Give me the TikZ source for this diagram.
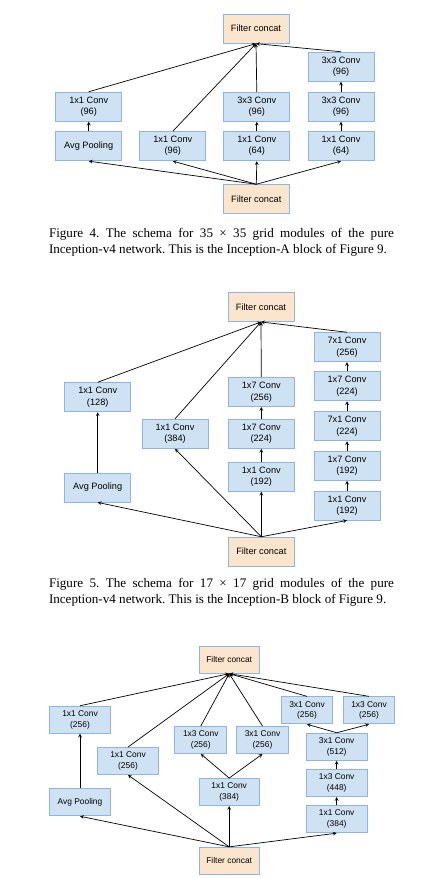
\documentclass[tikz,border=0pt]{standalone}
\usepackage{fontspec}
\setmainfont{Liberation Serif}
\newfontfamily\boxfont{Liberation Sans}
\usepackage{tikz}

\definecolor{convfill}{HTML}{CFE2F3}
\definecolor{convline}{RGB}{141,180,226}
\definecolor{catfill}{HTML}{FCE5CD}

\newcommand\capfmt{\frenchspacing\hyphenpenalty=10000\exhyphenpenalty=10000\relax}

\begin{document}
\begin{tikzpicture}[
  x=1pt, y=-1pt,
  box/.style={draw=convline, fill=convfill, line width=0.9pt, minimum width=66pt, minimum height=29pt, inner sep=0pt, align=center},
  concat/.style={box, fill=catfill},
  flow/.style={->, >=stealth, line width=0.7pt},
  caption/.style={text width=345pt, align=justify, inner sep=0pt, font=\fontsize{13.1}{15.8}\selectfont\capfmt},
  every node/.style={align=center}]

\useasboundingbox (0,0) rectangle (422,878);

% Inception-A
\begin{scope}[font=\boxfont\fontsize{9.2}{11}\selectfont]
  \node[concat] (catAtop) at (256,28.7) {Filter concat};
  \node[box] (convAfour) at (341,66.7) {3x3 Conv\\(96)};
  \node[box] (convAone) at (88.7,106.7) {1x1 Conv\\(96)};
  \node[box] (convAthree) at (256.8,106.7) {3x3 Conv\\(96)};
  \node[box] (convAfourb) at (341,106.7) {3x3 Conv\\(96)};
  \node[box] (poolA) at (88.7,146.2) {Avg Pooling};
  \node[box] (redAtwo) at (172.8,146.2) {1x1 Conv\\(96)};
  \node[box] (redAthree) at (256.8,146.2) {1x1 Conv\\(64)};
  \node[box] (redAfour) at (341,146.2) {1x1 Conv\\(64)};
  \node[concat] (catAbot) at (256.3,199.2) {Filter concat};
\end{scope}

\foreach \n in {poolA,redAtwo,redAthree,redAfour}
  \draw[flow] (catAbot.north) -- (\n.south);
\draw[flow] (poolA) -- (convAone);
\draw[flow] (redAthree) -- (convAthree);
\draw[flow] (redAfour) -- (convAfourb);
\draw[flow] (convAfourb) -- (convAfour);
\foreach \n in {convAone,redAtwo,convAthree,convAfour}
  \draw[flow] (\n.north) -- (catAtop.south);

\node[caption] (capA) at (221.5,242.5) {Figure 4. The schema for 35 × 35 grid modules of the pure Inception-v4 network. This is the Inception-A block of Figure 9.};

% Inception-B
\begin{scope}[font=\boxfont\fontsize{9.2}{11.5}\selectfont]
  \node[concat] (catBtop) at (261,307) {Filter concat};
  \node[box] (convBfoure) at (347,347.2) {7x1 Conv\\(256)};
  \node[box] (convBfourd) at (347,386.3) {1x7 Conv\\(224)};
  \node[box] (convBfourc) at (347,426.3) {7x1 Conv\\(224)};
  \node[box] (convBfourb) at (347,465.8) {1x7 Conv\\(192)};
  \node[box] (redBfour) at (347,505.5) {1x1 Conv\\(192)};
  \node[box] (convBthreec) at (261.3,392) {1x7 Conv\\(256)};
  \node[box] (convBthreeb) at (261.3,433.8) {1x7 Conv\\(224)};
  \node[box] (redBthree) at (261.3,476.7) {1x1 Conv\\(192)};
  \node[box] (redBtwo) at (175,433.8) {1x1 Conv\\(384)};
  \node[box] (convBone) at (97.7,397.2) {1x1 Conv\\(128)};
  \node[box] (poolB) at (97.7,487.5) {Avg Pooling};
  \node[concat] (catBbot) at (261.3,551.7) {Filter concat};
\end{scope}

\foreach \n in {poolB,redBtwo,redBthree,redBfour}
  \draw[flow] (catBbot.north) -- (\n.south);
\draw[flow] (poolB) -- (convBone);
\draw[flow] (redBthree) -- (convBthreeb);
\draw[flow] (convBthreeb) -- (convBthreec);
\draw[flow] (redBfour) -- (convBfourb);
\draw[flow] (convBfourb) -- (convBfourc);
\draw[flow] (convBfourc) -- (convBfourd);
\draw[flow] (convBfourd) -- (convBfoure);
\foreach \n in {convBone,redBtwo,convBthreec,convBfoure}
  \draw[flow] (\n.north) -- (catBtop.south);

\node[caption] (capB) at (221.5,592) {Figure 5. The schema for 17 × 17 grid modules of the pure Inception-v4 network. This is the Inception-B block of Figure 9.};

% Inception-C
\begin{scope}[font=\boxfont\fontsize{8.4}{10.7}\selectfont,
  box/.append style={minimum width=61pt, minimum height=27pt}]
  \node[concat, minimum width=60pt] (catCtop) at (229.2,659.7) {Filter concat};
  \node[box] (convCone) at (80,719.7) {1x1 Conv\\(256)};
  \node[box] (poolC) at (80,802.3) {Avg Pooling};
  \node[box] (redCtwo) at (128,761) {1x1 Conv\\(256)};
  \node[box, minimum width=52pt] (convCthreel) at (200.8,740) {1x3 Conv\\(256)};
  \node[box, minimum width=52pt] (convCthreer) at (262.5,740) {3x1 Conv\\(256)};
  \node[box, minimum width=60pt] (redCthree) at (229.2,792) {1x1 Conv\\(384)};
  \node[box, minimum width=51pt] (convCfourl) at (307,710.3) {3x1 Conv\\(256)};
  \node[box, minimum width=51pt] (convCfourr) at (369,710.3) {1x3 Conv\\(256)};
  \node[box] (convCfourc) at (336.7,746.7) {3x1 Conv\\(512)};
  \node[box] (convCfourb) at (336.7,783) {1x3 Conv\\(448)};
  \node[box] (redCfour) at (336.7,819.2) {1x1 Conv\\(384)};
  \node[concat, minimum width=60pt] (catCbot) at (229.2,860.8) {Filter concat};
\end{scope}

\foreach \n in {poolC,redCtwo,redCthree,redCfour}
  \draw[flow] (catCbot.north) -- (\n.south);
\draw[flow] (poolC) -- (convCone);
\draw[flow] (redCthree.north) -- (convCthreel.south);
\draw[flow] (redCthree.north) -- (convCthreer.south);
\draw[flow] (redCfour) -- (convCfourb);
\draw[flow] (convCfourb) -- (convCfourc);
\draw[flow] (convCfourc.north) -- (convCfourl.south);
\draw[flow] (convCfourc.north) -- (convCfourr.south);
\foreach \n in {convCone,redCtwo,convCthreel,convCthreer,convCfourl,convCfourr}
  \draw[flow] (\n.north) -- (catCtop.south);

\end{tikzpicture}
\end{document}
